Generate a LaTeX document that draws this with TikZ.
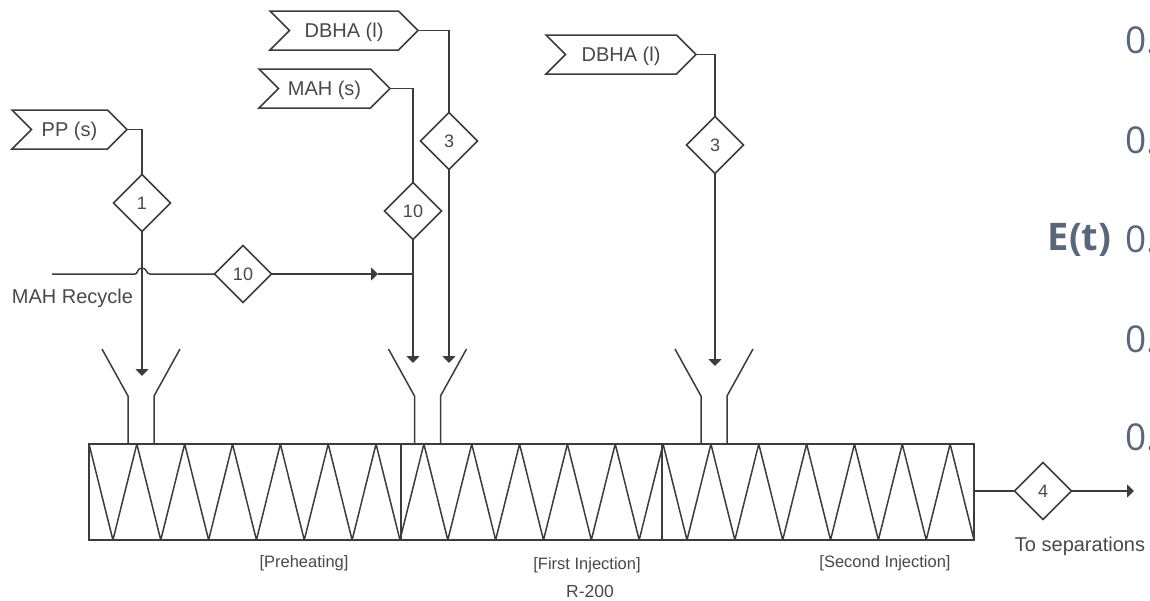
\documentclass[tikz,border=0pt]{standalone}
\usepackage{fontspec}
\setmainfont{Liberation Sans}
\newfontfamily\axisfont{Open Sans}
\usetikzlibrary{arrows.meta,shapes.geometric,shapes.symbols}
\definecolor{linegray}{HTML}{3C3C3C}
\definecolor{textgray}{HTML}{484848}
\definecolor{axisblue}{HTML}{5A6679}
\tikzset{
    flow/.style={-{Triangle[length=7pt,width=13pt]}},
    stream/.style={diamond, draw, aspect=1, inner sep=0pt, outer sep=0pt, minimum size=57pt, font=\fontsize{18}{18}\selectfont},
    feed/.style={signal, signal to=east, signal from=west, draw, inner sep=0pt, outer sep=0pt, minimum height=39pt, text height=14.5pt, text depth=0pt, font=\fontsize{20}{20}\selectfont},
    lbl/.style={inner sep=0pt, font=\fontsize{16.5}{16.5}\selectfont},
    axislbl/.style={font=\axisfont\fontsize{37}{37}\selectfont, text=axisblue, anchor=west, inner sep=0pt}
}
\begin{document}
\begin{tikzpicture}[x=1pt, y=-1pt, draw=linegray, text=textgray, line width=1.5pt]
    \useasboundingbox (0,0) rectangle (1150,600);
    \clip (0,0) rectangle (1150,600);

    % extruder barrel
    \node[draw, anchor=north west, inner sep=0pt, outer sep=0pt, minimum width=885pt, minimum height=96pt] (r200) at (89,444) {};
    \draw (401,444) -- (401,540);
    \draw (662,444) -- (662,540);
    \draw[line join=round] (89,444) foreach \k in {1,...,37} { -- ({89+23.92*\k},{492-48*cos(180*\k)}) };

    % feed funnels
    \foreach \fx in {141,427.5,714} {
        \draw (\fx-39,349) -- (\fx-13,396) -- (\fx-13,444);
        \draw (\fx+39,349) -- (\fx+13,396) -- (\fx+13,444);
    }

    % feeds
    \node[feed, minimum width=115pt] (pp) at (69.5,129.5) {PP (s)};
    \node[feed, minimum width=148pt] (dbha1) at (344,30.5) {DBHA (l)};
    \node[feed, minimum width=131pt] (mah) at (324.5,88.5) {MAH (s)};
    \node[feed, minimum width=150pt] (dbha2) at (621,54.5) {DBHA (l)};

    % streams
    \node[stream] (s1) at (142,203) {1};
    \node[stream] (s10a) at (243,274) {10};
    \node[stream] (s10b) at (413,211) {10};
    \node[stream] (s3a) at (449,141) {3};
    \node[stream] (s3b) at (715,145) {3};
    \node[stream] (s4) at (1043,491) {4};

    \coordinate (ppin) at (142,376);
    \coordinate (mahin) at (413,363);
    \coordinate (dbhain) at (449,363);
    \coordinate (dbhbin) at (715,366);
    \coordinate (recycle) at (52,274);
    \coordinate (recmid) at (378,274);
    \coordinate (join) at (413,274);
    \coordinate (sepout) at (1134,491);

    \draw (pp.east) -| (s1.north);
    \draw[flow] (s1.south) -- (ppin);
    \draw (dbha1.east) -| (s3a.north);
    \draw[flow] (s3a.south) -- (dbhain);
    \draw (mah.east) -| (s10b.north);
    \draw[flow] (s10b.south) -- (mahin);
    \draw (dbha2.east) -| (s3b.north);
    \draw[flow] (s3b.south) -- (dbhbin);

    % recycle line, hops over the PP line
    \draw (recycle) -- (135,274) .. controls (138,274) and (137,268) .. (142,268) .. controls (147,268) and (146,274) .. (150,274) -- (s10a.west);
    \draw[flow] (s10a.east) -- (recmid);
    \draw (recmid) -- (join);

    \draw (r200.east |- s4) -- (s4.west);
    \draw[flow] (s4.east) -- (sepout);

    \node[lbl, font=\fontsize{20}{20}\selectfont] (rec) at (72.5,298) {MAH Recycle};
    \node[lbl, font=\fontsize{20}{20}\selectfont] (sep) at (1080,546) {To separations};
    \node[lbl] (pre) at (304,563) {[Preheating]};
    \node[lbl] (first) at (587,565) {[First Injection]};
    \node[lbl] (second) at (885,563) {[Second Injection]};
    \node[lbl, font=\fontsize{17.5}{17.5}\selectfont] (rname) at (590,591) {R-200};

    % cut off axis of another figure
    \node[axislbl] (a1) at (1125,40) {0.};
    \node[axislbl] (a2) at (1125,140) {0.};
    \node[axislbl] (a3) at (1125,239) {0.};
    \node[axislbl] (a4) at (1125,339) {0.};
    \node[axislbl] (a5) at (1125,437) {0.};
    \node[axislbl, font=\axisfont\bfseries\fontsize{38}{38}\selectfont] (et) at (1047,240) {E(t)};
\end{tikzpicture}
\end{document}
